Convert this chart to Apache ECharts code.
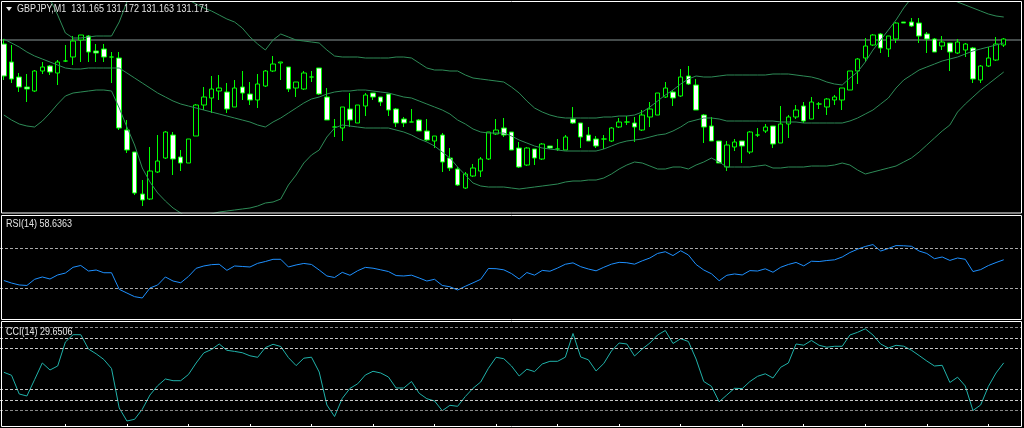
<!DOCTYPE html>
<html><head><meta charset="utf-8">
<script src="https://cdn.jsdelivr.net/npm/echarts@6/dist/echarts.min.js"></script>
<style>html,body{margin:0;padding:0;background:#000;overflow:hidden}#c{width:1024px;height:428px}</style>
</head><body><div id="c"></div>
<script>
const symbolTitle = 'GBPJPY,M1  131.165 131.172 131.163 131.171';
const rsiTitle = 'RSI(14) 58.6363';
const cciTitle = 'CCI(14) 29.6506';

const opens = [131.166,131.148,131.133,131.123,131.119,131.139,131.144,131.137,131.149,131.153,131.170,131.174,131.159,131.161,131.153,131.152,131.080,131.058,131.016,131.011,131.038,131.052,131.075,131.053,131.047,131.074,131.105,131.112,131.119,131.118,131.103,131.123,131.116,131.110,131.124,131.139,131.147,131.143,131.122,131.121,131.133,131.142,131.113,131.083,131.082,131.101,131.087,131.104,131.117,131.113,131.116,131.101,131.091,131.088,131.090,131.079,131.069,131.075,131.052,131.041,131.022,131.034,131.039,131.051,131.076,131.082,131.078,131.062,131.045,131.061,131.051,131.064,131.061,131.060,131.091,131.087,131.075,131.071,131.071,131.069,131.083,131.088,131.087,131.080,131.093,131.095,131.113,131.118,131.114,131.134,131.125,131.095,131.084,131.069,131.043,131.063,131.069,131.058,131.075,131.079,131.084,131.067,131.086,131.093,131.104,131.091,131.106,131.103,131.110,131.110,131.120,131.139,131.152,131.165,131.176,131.161,131.171,131.188,131.188,131.187,131.176,131.171,131.164,131.167,131.157,131.160,131.162,131.130,131.144,131.150,131.165];
const closes = [131.134,131.131,131.123,131.121,131.139,131.143,131.138,131.148,131.149,131.169,131.175,131.158,131.157,131.153,131.153,131.082,131.060,131.017,131.010,131.039,131.049,131.078,131.051,131.047,131.071,131.105,131.113,131.121,131.122,131.101,131.122,131.117,131.110,131.126,131.139,131.146,131.148,131.121,131.128,131.137,131.133,131.116,131.090,131.083,131.103,131.090,131.105,131.115,131.113,131.108,131.100,131.087,131.087,131.088,131.079,131.070,131.074,131.048,131.042,131.025,131.036,131.042,131.051,131.078,131.080,131.075,131.060,131.043,131.062,131.052,131.066,131.062,131.061,131.073,131.087,131.073,131.069,131.064,131.071,131.082,131.088,131.088,131.083,131.095,131.101,131.117,131.122,131.112,131.133,131.126,131.100,131.083,131.069,131.047,131.065,131.068,131.064,131.078,131.075,131.083,131.066,131.086,131.093,131.100,131.089,131.108,131.106,131.111,131.113,131.122,131.139,131.151,131.164,131.175,131.162,131.174,131.187,131.187,131.184,131.174,131.171,131.158,131.168,131.158,131.168,131.166,131.131,131.144,131.152,131.166,131.171];
const lows = [131.130,131.127,131.118,131.108,131.118,131.136,131.135,131.125,131.148,131.145,131.148,131.148,131.148,131.148,131.127,131.080,131.057,131.015,131.004,131.010,131.037,131.051,131.035,131.039,131.047,131.074,131.100,131.097,131.110,131.097,131.103,131.110,131.105,131.102,131.123,131.138,131.130,131.118,131.113,131.120,131.128,131.115,131.090,131.073,131.069,131.083,131.087,131.094,131.110,131.104,131.094,131.083,131.083,131.088,131.079,131.069,131.062,131.038,131.039,131.024,131.021,131.033,131.033,131.050,131.075,131.073,131.060,131.042,131.044,131.045,131.050,131.061,131.059,131.060,131.086,131.062,131.069,131.062,131.061,131.068,131.082,131.085,131.068,131.079,131.083,131.095,131.112,131.104,131.113,131.125,131.100,131.067,131.069,131.047,131.039,131.059,131.047,131.056,131.073,131.077,131.062,131.067,131.072,131.091,131.087,131.091,131.101,131.095,131.105,131.100,131.120,131.126,131.148,131.164,131.157,131.153,131.167,131.187,131.183,131.167,131.157,131.158,131.160,131.139,131.156,131.153,131.127,131.127,131.143,131.149,131.163];
const highs = [131.171,131.165,131.137,131.136,131.140,131.148,131.145,131.150,131.165,131.174,131.175,131.175,131.166,131.166,131.158,131.158,131.090,131.058,131.030,131.063,131.075,131.079,131.078,131.060,131.071,131.106,131.123,131.134,131.135,131.127,131.130,131.139,131.128,131.136,131.140,131.154,131.148,131.143,131.128,131.139,131.139,131.142,131.122,131.091,131.103,131.117,131.105,131.117,131.117,131.113,131.116,131.102,131.093,131.101,131.091,131.091,131.074,131.077,131.062,131.043,131.038,131.046,131.053,131.078,131.091,131.092,131.078,131.068,131.063,131.061,131.067,131.064,131.071,131.075,131.103,131.087,131.083,131.074,131.075,131.083,131.092,131.094,131.093,131.100,131.108,131.117,131.128,131.120,131.141,131.144,131.131,131.096,131.093,131.069,131.069,131.071,131.069,131.079,131.082,131.086,131.084,131.104,131.095,131.105,131.108,131.113,131.108,131.112,131.115,131.122,131.139,131.152,131.172,131.176,131.177,131.174,131.188,131.188,131.192,131.192,131.178,131.172,131.174,131.167,131.171,131.167,131.163,131.145,131.163,131.173,131.172];

const bbUpper = [131.247,131.240,131.234,131.228,131.222,131.217,131.211,131.195,131.177,131.172,131.172,131.173,131.174,131.174,131.174,131.188,131.208,131.220,131.225,131.225,131.224,131.222,131.218,131.214,131.210,131.206,131.202,131.199,131.195,131.191,131.188,131.182,131.173,131.166,131.160,131.170,131.176,131.173,131.170,131.169,131.168,131.167,131.160,131.154,131.153,131.153,131.153,131.152,131.152,131.152,131.152,131.153,131.153,131.152,131.147,131.142,131.140,131.140,131.139,131.139,131.135,131.132,131.131,131.130,131.129,131.128,131.123,131.117,131.109,131.102,131.098,131.095,131.093,131.092,131.092,131.092,131.092,131.092,131.093,131.093,131.094,131.094,131.095,131.098,131.103,131.109,131.115,131.120,131.126,131.131,131.134,131.133,131.133,131.134,131.135,131.135,131.135,131.135,131.135,131.135,131.136,131.136,131.136,131.135,131.134,131.133,131.131,131.128,131.126,131.125,131.132,131.138,131.148,131.160,131.170,131.180,131.190,131.202,131.212,131.218,131.220,131.218,131.215,131.211,131.208,131.205,131.202,131.199,131.196,131.194,131.193];
const bbMiddle = [131.171,131.167,131.163,131.158,131.154,131.151,131.148,131.145,131.142,131.141,131.141,131.142,131.142,131.142,131.142,131.142,131.137,131.132,131.127,131.122,131.117,131.113,131.109,131.106,131.104,131.102,131.100,131.098,131.096,131.094,131.092,131.090,131.088,131.085,131.083,131.088,131.092,131.097,131.102,131.107,131.111,131.113,131.116,131.118,131.119,131.119,131.120,131.120,131.119,131.118,131.117,131.115,131.113,131.112,131.109,131.106,131.103,131.100,131.096,131.090,131.086,131.081,131.078,131.077,131.077,131.077,131.074,131.070,131.067,131.064,131.062,131.061,131.060,131.059,131.059,131.059,131.059,131.059,131.061,131.064,131.067,131.069,131.070,131.071,131.073,131.075,131.076,131.079,131.083,131.088,131.090,131.092,131.092,131.091,131.089,131.089,131.089,131.089,131.089,131.089,131.089,131.088,131.088,131.088,131.087,131.087,131.087,131.087,131.087,131.087,131.089,131.092,131.096,131.100,131.106,131.112,131.122,131.130,131.135,131.140,131.143,131.146,131.149,131.151,131.153,131.156,131.159,131.161,131.163,131.165,131.167];
const bbLower = [131.095,131.090,131.086,131.084,131.083,131.089,131.097,131.106,131.114,131.117,131.118,131.119,131.120,131.120,131.119,131.102,131.083,131.065,131.042,131.028,131.017,131.009,131.002,130.997,130.992,130.992,130.994,130.996,130.998,130.999,131.000,131.001,131.002,131.004,131.007,131.008,131.011,131.025,131.035,131.047,131.055,131.060,131.073,131.082,131.085,131.084,131.083,131.082,131.082,131.082,131.082,131.080,131.078,131.075,131.071,131.068,131.064,131.058,131.052,131.043,131.035,131.027,131.024,131.023,131.023,131.023,131.022,131.021,131.022,131.023,131.024,131.025,131.026,131.028,131.029,131.029,131.030,131.030,131.032,131.036,131.041,131.045,131.048,131.047,131.044,131.041,131.041,131.043,131.043,131.041,131.045,131.048,131.052,131.048,131.043,131.043,131.043,131.043,131.044,131.045,131.042,131.042,131.043,131.043,131.043,131.044,131.044,131.044,131.045,131.047,131.045,131.040,131.036,131.038,131.040,131.042,131.044,131.048,131.052,131.058,131.065,131.072,131.079,131.085,131.098,131.106,131.113,131.120,131.126,131.132,131.138];

const rsiValues = [38.1,35.6,33.7,33.2,39.3,41.6,39.6,43.6,45.5,51.2,53.0,47.5,48.5,45.8,45.8,29.4,25.7,22.1,20.8,30.7,33.7,41.6,37.6,35.9,42.1,50.2,52.5,53.8,54.2,48.2,52.5,52.0,51.5,55.1,56.9,59.1,59.1,51.5,53.5,55.0,54.0,48.5,42.6,41.1,46.2,43.3,47.8,51.1,50.3,48.7,47.0,43.0,42.6,43.4,40.6,37.6,39.3,33.2,31.9,28.7,32.4,35.8,39.3,50.0,49.8,48.7,45.0,39.6,46.0,43.4,48.1,47.3,50.5,54.2,55.6,51.8,49.5,47.7,51.2,54.3,56.1,55.7,54.3,57.6,60.4,64.9,66.6,62.8,67.6,63.4,54.0,48.5,44.8,37.9,43.3,44.6,43.6,47.9,47.5,49.7,46.3,51.2,54.0,56.0,52.6,57.2,56.9,57.9,58.6,61.4,65.8,69.1,71.8,73.7,67.3,69.8,72.7,72.5,72.0,67.3,64.9,59.7,61.4,58.0,60.4,59.1,47.0,48.9,52.9,55.9,58.6363];
const cciValues = [-15.9,-30.4,-120.8,-130.4,-51.2,29.0,-4.8,14.5,130.4,165.7,165.7,96.6,73.4,45.9,2.4,-188.4,-251.2,-243.0,-194.7,-125.6,-80.7,-48.3,-56.5,-56.5,-26.6,29.0,77.8,94.2,120.8,90.3,85.0,78.7,63.8,56.5,103.4,119.3,108.7,55.1,16.4,52.2,57.0,-14.5,-173.9,-229.5,-142.0,-93.7,-71.5,-29.0,-11.1,-19.3,-38.6,-91.8,-91.8,-60.4,-117.4,-143.5,-154.6,-201.4,-175.4,-180.2,-132.9,-93.2,-62.8,3.4,56.5,49.8,14.5,-33.8,-1.0,-12.6,24.2,37.2,37.2,57.0,171.5,58.0,44.4,-9.7,26.6,87.0,125.6,120.8,62.8,96.6,125.6,164.3,186.0,123.2,146.4,132.9,48.3,-60.4,-83.6,-158.5,-125.6,-93.2,-94.7,-60.4,-35.3,-23.2,-43.5,8.2,29.0,120.8,115.0,137.7,114.5,105.3,109.7,109.7,164.3,177.3,194.2,164.3,120.8,101.4,114.5,110.1,90.8,65.2,38.6,14.5,17.9,-65.2,-39.6,-82.1,-200.5,-173.9,-84.5,-19.3,29.6506];

const rsiLevels = [70, 30];
const cciLevels = [200, 150, 100, -100, -150, -200];
const emptySlots = 2;

const categories = opens.map((_, i) => 'b' + i);
for (let k = 0; k < emptySlots; k++) categories.push('e' + k);
const candles = opens.map((o, i) => [o, closes[i], lows[i], highs[i]]);
const bid = closes[closes.length - 1];

const chart = echarts.init(document.getElementById('c'), null, {renderer: 'canvas'});
const gridPos = {left: -1.15, right: 1.05};
const hiddenX = (gi, extra) => Object.assign({type: 'category', gridIndex: gi, data: categories, boundaryGap: true, position: 'bottom',
  axisLine: {show: false, onZero: false}, axisLabel: {show: false}, axisTick: {show: false}, splitLine: {show: false}}, extra || {});
const hiddenY = (gi, min, max) => ({type: 'value', gridIndex: gi, min: min, max: max, scale: true,
  axisLine: {show: false}, axisLabel: {show: false}, axisTick: {show: false}, splitLine: {show: false}});
const lvlLine = (vals, colorFn) => ({silent: true, symbol: ['none', 'none'], label: {show: false},
  data: vals.map(v => ({yAxis: v, lineStyle: {color: colorFn(v), type: [3, 2], width: 1}}))});
const bandStyle = {color: '#2e8b57', width: 1};

chart.setOption({
  backgroundColor: '#000',
  animation: false,
  grid: [
    Object.assign({top: 2, height: 211}, gridPos),
    Object.assign({top: 218, height: 101}, gridPos),
    Object.assign({top: 322, height: 105}, gridPos)
  ],
  xAxis: [
    hiddenX(0), hiddenX(1),
    hiddenX(2, {axisTick: {show: true, inside: true, length: 3, alignWithLabel: true,
      interval: (idx) => idx > 0 && idx % 8 === 0, lineStyle: {color: '#ffffff', width: 1}}})
  ],
  yAxis: [hiddenY(0, 130.997, 131.208), hiddenY(1, 0, 100), hiddenY(2, -280.2, 227.05)],
  series: [
    {type: 'candlestick', name: 'GBPJPY', xAxisIndex: 0, yAxisIndex: 0, data: candles, barWidth: 5,
      itemStyle: {color: '#000000', color0: '#ffffff', borderColor: '#00ff00', borderColor0: '#00ff00', borderColorDoji: '#00ff00', borderWidth: 1},
      markLine: {silent: true, symbol: ['none', 'none'], label: {show: false}, z: 1,
        data: [{yAxis: bid, lineStyle: {color: '#5c6666', width: 1.5, type: 'solid'}}]}},
    {type: 'line', name: 'BB upper', xAxisIndex: 0, yAxisIndex: 0, data: bbUpper, showSymbol: false, lineStyle: bandStyle, z: 3, clip: true},
    {type: 'line', name: 'BB middle', xAxisIndex: 0, yAxisIndex: 0, data: bbMiddle, showSymbol: false, lineStyle: bandStyle, z: 3, clip: true},
    {type: 'line', name: 'BB lower', xAxisIndex: 0, yAxisIndex: 0, data: bbLower, showSymbol: false, lineStyle: bandStyle, z: 3, clip: true},
    {type: 'line', name: 'RSI', xAxisIndex: 1, yAxisIndex: 1, data: rsiValues, showSymbol: false,
      lineStyle: {color: '#1e90ff', width: 1}, z: 3,
      markLine: lvlLine(rsiLevels, () => '#a8a8a8')},
    {type: 'line', name: 'CCI', xAxisIndex: 2, yAxisIndex: 2, data: cciValues, showSymbol: false,
      lineStyle: {color: '#20b2aa', width: 1}, z: 3,
      markLine: lvlLine(cciLevels, (v) => Math.abs(v) === 200 ? '#8a8a8a' : '#c8c8c8')}
  ],
  graphic: [
    {type: 'rect', z: 100, shape: {x: 1022, y: 0, width: 4, height: 428}, style: {fill: '#000'}},
    {type: 'rect', z: 101, shape: {x: 1.5, y: 1.5, width: 1020, height: 211.5}, style: {fill: 'none', stroke: '#ffffff', lineWidth: 1}},
    {type: 'rect', z: 101, shape: {x: 1.5, y: 215.5, width: 1020, height: 104}, style: {fill: 'none', stroke: '#ffffff', lineWidth: 1}},
    {type: 'rect', z: 101, shape: {x: 1.5, y: 321.5, width: 1020, height: 105}, style: {fill: 'none', stroke: '#ffffff', lineWidth: 1}},
    {type: 'polygon', z: 102, shape: {points: [[6, 7], [12, 7], [9, 11]]}, style: {fill: '#e8e8e8'}},
    {type: 'text', z: 102, x: 17, y: 3.4, scaleY: 1.2, style: {text: symbolTitle, fill: '#e4e4e4', font: '9px "Liberation Sans"', verticalAlign: 'top'}},
    {type: 'text', z: 102, x: 6, y: 219, scaleY: 1.2, style: {text: rsiTitle, fill: '#e4e4e4', font: '9px "Liberation Sans"', verticalAlign: 'top'}},
    {type: 'text', z: 102, x: 6, y: 326.4, scaleY: 1.2, style: {text: cciTitle, fill: '#e4e4e4', font: '9px "Liberation Sans"', verticalAlign: 'top'}}
  ]
});
</script>
</body></html>
